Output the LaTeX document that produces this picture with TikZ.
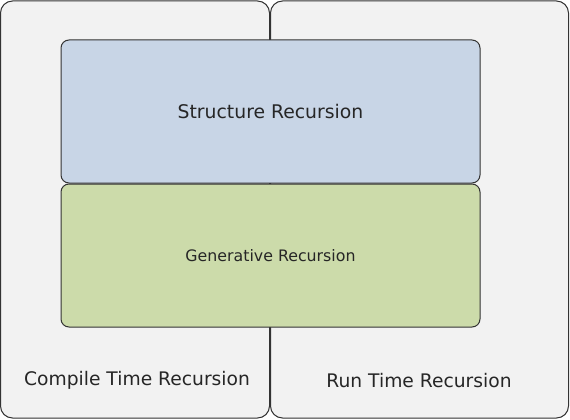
\documentclass[tikz,border=0pt]{standalone}
\usepackage{fontspec}
\setmainfont{DejaVu Sans}
\usetikzlibrary{positioning}
\definecolor{panelgray}{HTML}{F2F2F2}
\definecolor{structblue}{HTML}{C8D5E6}
\definecolor{genergreen}{HTML}{CCDBAA}
\definecolor{edgegray}{HTML}{333333}

\begin{document}
\begin{tikzpicture}[x=1pt, y=-1pt,
      panel/.style={draw=edgegray, fill=panelgray, rounded corners=12pt,
                    line width=1pt, inner sep=0pt},
      inbox/.style={draw=edgegray, rounded corners=8pt, line width=1pt,
                    minimum width=419pt, minimum height=143pt,
                    align=center, inner sep=0pt},
      lbl/.style={font=\fontsize{18.7}{22}\selectfont, text=black!85}
    ]
    \useasboundingbox (0,0) rectangle (570,420);
    \node[panel, minimum width=269pt, minimum height=417pt] (ctime) at (135,209.5) {};
    \node[panel, minimum width=298pt, minimum height=417pt] (rtime) at (419.5,209.5) {};
    \node[inbox, fill=structblue, font=\fontsize{18.8}{22}\selectfont, text=black!85] (struct) at (270.5,111.5)
      {Structure Recursion};
    \node[inbox, fill=genergreen, font=\fontsize{15.8}{19}\selectfont, text=black!85, below=0pt of struct] (gener)
      {Generative Recursion};
    \node[lbl] (ctimelbl) at (137,380) {Compile Time Recursion};
    \node[lbl] (rtimelbl) at (419,381) {Run Time Recursion};
  \end{tikzpicture}
\end{document}
